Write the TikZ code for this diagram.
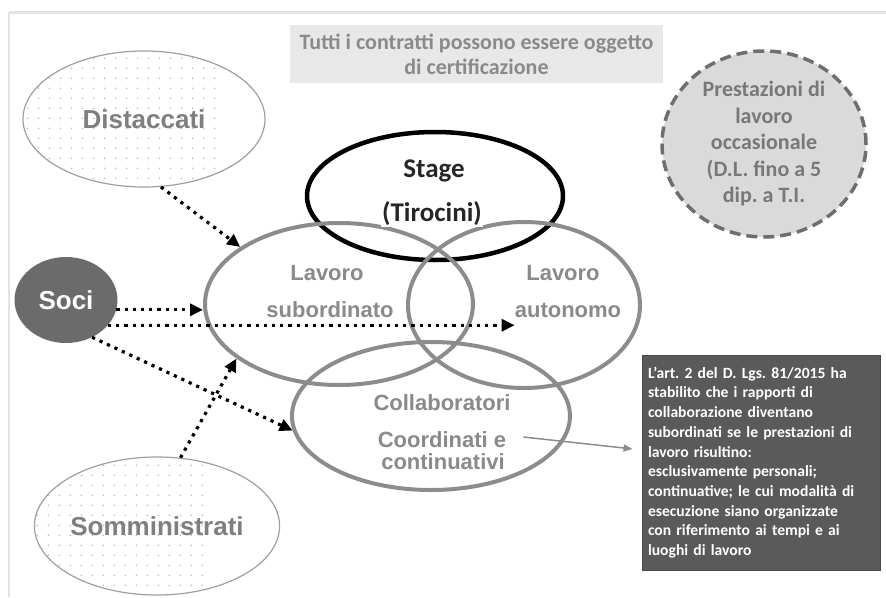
\documentclass[tikz,border=0pt]{standalone}
\usepackage{fontspec}
\setmainfont{Carlito}
\newfontfamily\lsans{Liberation Sans}
\usetikzlibrary{arrows.meta,calc,shapes.geometric}
\definecolor{ringgrey}{HTML}{8C8C8C}
\definecolor{lblgrey}{HTML}{8A8A8A}
\definecolor{outlbl}{HTML}{7F7F7F}
\definecolor{boxgrey}{HTML}{E8E8E8}
\definecolor{circfill}{HTML}{DADADA}
\definecolor{circline}{HTML}{6E6E6E}
\definecolor{circtext}{HTML}{787878}
\definecolor{darkbox}{HTML}{5A5A5A}
\definecolor{socifill}{HTML}{6B6B6B}
\definecolor{framegrey}{HTML}{E3E3E3}
\definecolor{dotgrey}{HTML}{B5B5B5}
\frenchspacing
\tikzset{
  outerell/.style={ellipse, draw=gray!75, line width=1.2pt, inner sep=0pt,
    text=outlbl, font=\lsans\bfseries\fontsize{26}{30}\selectfont,
    path picture={
      \foreach \i in {-12,...,12}{\foreach \j in {-8,...,8}{
        \fill[dotgrey, shift={(path picture bounding box.center)}] (\i*11,\j*10) circle (0.8pt);}}
    }},
  ring/.style={ellipse, draw=ringgrey, line width=4pt, inner sep=0pt},
  innerlbl/.style={inner sep=0pt, text=lblgrey, font=\lsans\bfseries\fontsize{22}{26}\selectfont},
  stagelbl/.style={inner sep=0pt, text=black!85, font=\bfseries\fontsize{27}{30}\selectfont},
  dotarrow/.style={black, line width=3.2pt, dash pattern=on 3.2pt off 5pt,
    -{Triangle[length=13pt,width=12pt]}},
  greyarrow/.style={draw=gray!90, line width=1.5pt, -{Triangle[length=9pt,width=7pt]}, shorten >=9pt}
}
\begin{document}
\begin{tikzpicture}[x=1pt,y=-1pt]
\useasboundingbox (0,0) rectangle (886,597);
\fill[white] (0,0) rectangle (886,597);
% frame
\draw[framegrey, line width=3pt] (9,12) -- (886,12);
\draw[framegrey, line width=1.5pt] (9,12) -- (9,597);

% top box
\node[fill=boxgrey, minimum width=373, minimum height=58, inner sep=0pt, align=center,
  text=lblgrey, font=\bfseries\fontsize{22}{25}\selectfont] (cert) at (476.5,54)
  {Tutti i contratti possono essere oggetto\\di certificazione};

% occasional work circle
\node[ellipse, fill=circfill, draw=circline, line width=3.5pt, dash pattern=on 11pt off 6pt,
  minimum width=204, minimum height=186, inner sep=0pt, align=center,
  text=circtext, font=\bfseries\fontsize{22}{26.5}\selectfont] (prest) at (764,144)
  {Prestazioni di\\lavoro\\occasionale\\(D.L. fino a 5\\dip. a T.I.};

% outer ellipses
\node[outerell, minimum width=242, minimum height=136] (dist) at (144,119) {Distaccati};
\node[outerell, minimum width=244, minimum height=138] (som) at (157,526) {Somministrati};
\node[ellipse, fill=socifill, minimum width=103, minimum height=86, inner sep=0pt,
  text=white, font=\lsans\bfseries\fontsize{26}{30}\selectfont] (soci) at (66,300) {Soci};

% stage
\node[ellipse, draw=black, line width=4.5pt, minimum width=256, minimum height=128, inner sep=0pt] (stage) at (435,196) {};

% rings
\node[ring, minimum width=268, minimum height=162] (ls) at (339,304) {};
\node[ring, minimum width=232, minimum height=166] (aut) at (524,305) {};
\node[ring, minimum width=278, minimum height=148] (collab) at (431,416) {};

% labels
\node[stagelbl] (stg) at (434,171) {Stage};
\node[stagelbl, fill=white, inner sep=1pt] (tir) at (432,214) {(Tirocini)};
\node[innerlbl] (lsa) at (327,273) {Lavoro};
\node[innerlbl] (lsb) at (330,310) {subordinato};
\node[innerlbl] (aua) at (563,273) {Lavoro};
\node[innerlbl] (aub) at (568,310) {autonomo};
\node[innerlbl] (cola) at (442,403) {Collaboratori};
\node[innerlbl] (colb) at (442,440) {Coordinati e};
\node[innerlbl] (colc) at (443,462) {continuativi};

% note box
\node[fill=darkbox, draw=darkbox!80!black, line width=1pt, minimum width=238, minimum height=215,
  text width=226, align=left, inner xsep=6pt, inner ysep=0pt, text=white,
  font=\frenchspacing\bfseries\fontsize{15.6}{19.7}\selectfont] (note) at (761,462.5)
  {L’art. 2 del D. Lgs. 81/2015 ha\\stabilito che i rapporti di\\collaborazione diventano\\subordinati se le prestazioni di\\lavoro risultino:\\esclusivamente personali;\\continuative; le cui modalità di\\esecuzione siano organizzate\\con riferimento ai tempi e ai\\luoghi di lavoro};

% connectors
\draw[dotarrow] (dist.-76) -- (ls.150);
\draw[dotarrow] (soci.-11) -- (soci.-11 -| ls.west);
\draw[dotarrow] (soci.-31) -- (soci.-31 -| aub.west);
\draw[dotarrow] (soci.-55) -- (collab.186);
\draw[dotarrow] (som.71) -- (ls.208);
\coordinate (gs) at ($(colb.east)+(17,-3)$);
\draw[greyarrow] (gs) -- (note.174);
\end{tikzpicture}
\end{document}
